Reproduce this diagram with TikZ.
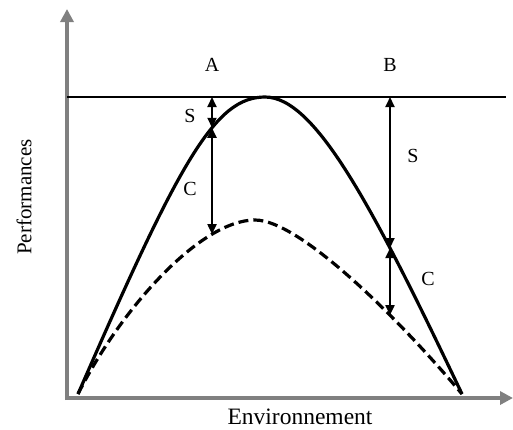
\documentclass[tikz,border=0pt]{standalone}
\usepackage{fontspec}
\setmainfont{Liberation Serif}
\usetikzlibrary{arrows.meta,intersections}
\definecolor{AxisGrey}{HTML}{808080}
\definecolor{Ink}{HTML}{000000}
\tikzset{
  axisline/.style={draw=AxisGrey,line width=4pt,-{Triangle[length=13pt,width=13pt]}},
  maxline/.style={draw=Ink,line width=1.4pt},
  solidcurve/.style={draw=Ink,line width=3.2pt},
  dashcurve/.style={draw=Ink,line width=3.2pt,dash pattern=on 10pt off 5pt},
  gapline/.style={{Triangle[length=10pt,width=9pt]}-{Triangle[length=10pt,width=9pt]},draw=Ink,line width=1.8pt},
  letter/.style={font=\fontsize{20}{20}\selectfont,text=Ink},
  axislabel/.style={font=\fontsize{21}{21}\selectfont,text=Ink}
}

\begin{document}
\begin{tikzpicture}[x=1pt,y=-1pt]
  \useasboundingbox (0,0) rectangle (513,429);
  % axes
  \coordinate (ybot) at (67,400);
  \coordinate (ytop) at (67,9);
  \coordinate (xbeg) at (65,398);
  \coordinate (xend) at (513,398);
  \draw[axisline] (ybot) -- (ytop);
  \draw[axisline] (xbeg) -- (xend);
  % maximum performance
  \coordinate (maxL) at (67,97);
  \coordinate (maxR) at (506,97);
  \draw[maxline] (maxL) -- (maxR);
  % curves
  \coordinate (footL) at (78,394);
  \coordinate (footR) at (462,394);
  \coordinate (peak) at (265,97);
  \coordinate (dpeak) at (255,220);
  \draw[solidcurve,name path=solid] (footL) .. controls (180,160) and (215,97) .. (peak)
    .. controls (315,97) and (372,205) .. (footR);
  \draw[dashcurve,name path=dashed] (footL) .. controls (120,310) and (200,220) .. (dpeak)
    .. controls (300,220) and (400,320) .. (footR);
  % gaps at A and B
  \path[name path=vA] (212,0) -- (212,429);
  \path[name path=vB] (390,0) -- (390,429);
  \path[name intersections={of=solid and vA,by=sA}];
  \path[name intersections={of=dashed and vA,by=dA}];
  \path[name intersections={of=solid and vB,by=sB}];
  \path[name intersections={of=dashed and vB,by=dB}];
  \coordinate (tA) at (sA |- maxL);
  \coordinate (tB) at (sB |- maxL);
  \draw[gapline] (sA) -- (tA);
  \draw[gapline] (dA) -- (sA);
  \draw[gapline] (sB) -- (tB);
  \draw[gapline] (dB) -- (sB);
  % labels
  \node[letter] (labA) at (212,65) {A};
  \node[letter] (labB) at (390,65) {B};
  \node[letter] (sgapA) at (190,116) {S};
  \node[letter] (cgapA) at (190,189) {C};
  \node[letter] (sgapB) at (413,156) {S};
  \node[letter] (cgapB) at (428,279) {C};
  \node[axislabel,rotate=90] (perf) at (24,197) {Performances};
  \node[axislabel,font=\fontsize{23.5}{23.5}\selectfont] (env) at (300,417) {Environnement};
\end{tikzpicture}
\end{document}
